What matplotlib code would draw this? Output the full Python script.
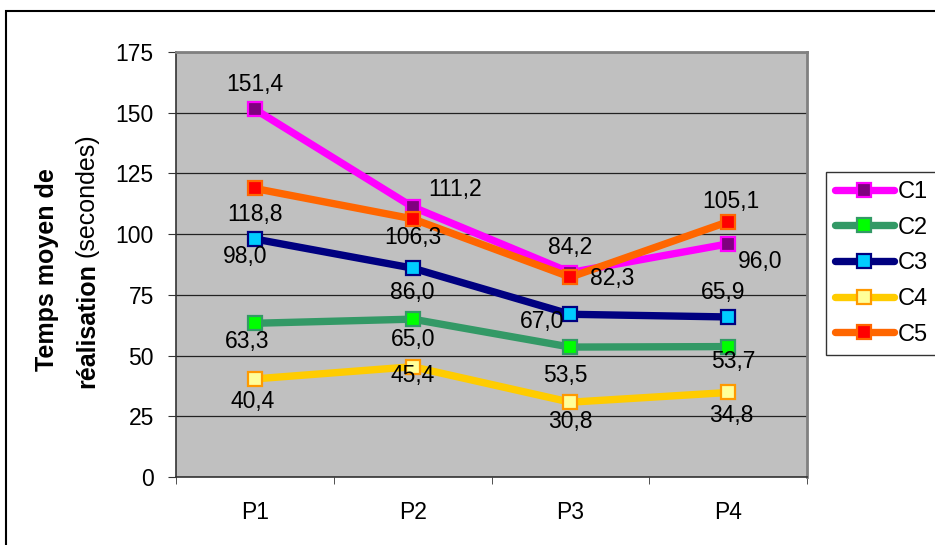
import numpy as np
import matplotlib
matplotlib.use('Agg')
import matplotlib.pyplot as plt
from matplotlib.patches import Rectangle

plt.rcParams['font.family'] = ['Liberation Sans', 'DejaVu Sans']

# data
categories = ['P1', 'P2', 'P3', 'P4']
series_names = ['C1', 'C2', 'C3', 'C4', 'C5']
c1 = [151.4, 111.2, 84.2, 96.0]
c2 = [63.3, 65.0, 53.5, 53.7]
c3 = [98.0, 86.0, 67.0, 65.9]
c4 = [40.4, 45.4, 30.8, 34.8]
c5 = [118.8, 106.3, 82.3, 105.1]
y_ticks = [0, 25, 50, 75, 100, 125, 150, 175]

series = [c1, c2, c3, c4, c5]
# line colour, marker face, marker edge
styles = [('#FF00FF', '#800080', '#FF00FF'),
          ('#339966', '#00FF00', '#339966'),
          ('#000080', '#00CCFF', '#000080'),
          ('#FFCC00', '#FFFF99', '#FF9900'),
          ('#FF6600', '#FF0000', '#FF6600')]
# label offsets in pixels (dx, dy) per point
offsets = [[(0, 25), (42, 17), (0, 25), (32, -18)],
           [(-8, -18), (0, -20), (-5, -28), (5, -15)],
           [(-10, -17), (0, -24), (-28, -7), (-5, 24)],
           [(-2, -23), (0, -9), (0, -19), (3, -23)],
           [(0, -26), (0, -19), (42, -1), (3, 20)]]

FS = 16.5
W, H = 935, 545
fig = plt.figure(figsize=(W / 100, H / 100), dpi=100)

# outer chart frame (continues past the right/bottom edge)
fig.patches.append(Rectangle((6 / W, -0.05), 1.2, (H - 11) / H + 0.05,
                             transform=fig.transFigure, fill=False,
                             edgecolor='black', linewidth=1.5, clip_on=False))

# cut-off caption line above the chart (only descenders visible)
fig.text(192 / W, 1.0 + 4 / H, 'p', family='Liberation Serif', fontweight='bold',
         fontsize=14, ha='center', va='baseline')
fig.text(530 / W, 1.0 + 5 / H, '(', family='Liberation Serif', color='#aaaaaa',
         fontsize=14, ha='center', va='baseline')
fig.text(622 / W, 1.0 + 5 / H, ')', family='Liberation Serif', color='#aaaaaa',
         fontsize=14, ha='center', va='baseline')

ax = fig.add_axes([176 / W, (H - 477) / H, (807 - 176) / W, (477 - 52) / H])
ax.set_facecolor('#C0C0C0')
x = np.arange(len(categories))

for k, vals in enumerate(series):
    lc, fc, ec = styles[k]
    ax.plot(x, vals, color=lc, linewidth=5.3, solid_capstyle='round',
            marker='s', markersize=9.5, markerfacecolor=fc, markeredgecolor=ec,
            markeredgewidth=1.6, label=series_names[k], zorder=3 + k)
    for i, v in enumerate(vals):
        dx, dy = offsets[k][i]
        ax.annotate(f'{v:.1f}'.replace('.', ','), (x[i], v), xytext=(dx * 0.72, dy * 0.72),
                    textcoords='offset points', ha='center', va='center',
                    fontsize=FS, color='black', zorder=10)

ax.set_xlim(-0.5, 3.5)
ax.set_ylim(0, 175)
ax.set_yticks(y_ticks)
ax.set_yticklabels([str(t) for t in y_ticks], fontsize=FS)
ax.yaxis.grid(True, color='#222222', linewidth=0.9)
ax.set_axisbelow(True)
ax.set_xticks(x)
ax.set_xticklabels(categories, fontsize=FS)
ax.set_xticks(np.arange(-0.5, 4.0, 1.0), minor=True)
ax.tick_params(axis='x', which='major', length=0, pad=17)
ax.tick_params(axis='x', which='minor', length=5, direction='out', color='#333333')
ax.tick_params(axis='y', length=6, direction='out', color='#333333', pad=10)

for s in ['top', 'right']:
    ax.spines[s].set_color('#808080')
    ax.spines[s].set_linewidth(2)
for s in ['left', 'bottom']:
    ax.spines[s].set_color('#333333')
    ax.spines[s].set_linewidth(1.2)

# y label, two lines, mixed weight
fig.text(47 / W, (H - 270) / H, 'Temps moyen de', rotation=90, fontsize=18,
         fontweight='bold', ha='center', va='center')
t1 = fig.text(87 / W, (H - 388) / H, 'réalisation', rotation=90, fontsize=18,
              fontweight='bold', ha='center', va='bottom')
fig.canvas.draw()
bb = t1.get_window_extent()
fig.text(87 / W, (bb.y1 + 6) / H, '(secondes)', rotation=90, fontsize=18,
         ha='center', va='bottom')

leg = fig.legend(loc='upper left', bbox_to_anchor=(826 / W, (H - 172) / H),
                 fontsize=17, frameon=True, fancybox=False, handlelength=2.5,
                 handletextpad=0.15, labelspacing=0.58, borderpad=0.38,
                 borderaxespad=0)
leg.get_frame().set_edgecolor('black')
leg.get_frame().set_linewidth(1)

fig.savefig('out.png', dpi=100)
